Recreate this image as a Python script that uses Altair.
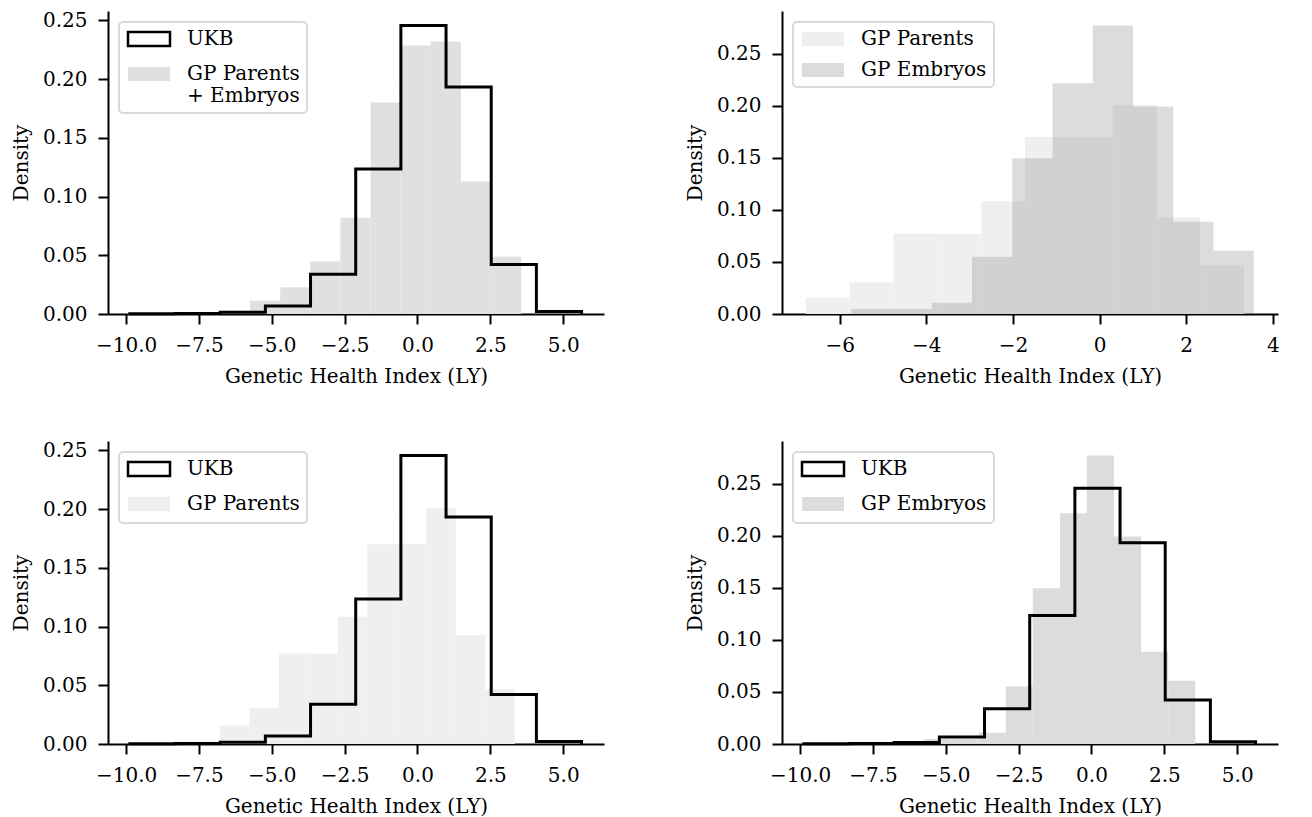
import altair as alt
import numpy as np
import pandas as pd

FONT = "DejaVu Serif"

# ---- data (density per bin, 10 equal bins) ----
UKB_RANGE = [-9.87, 5.63]
UKB_DENSITY = [0.0003, 0.0005, 0.0014, 0.0068, 0.0338, 0.1235, 0.2457, 0.1932, 0.0422, 0.0021]

PARENTS_RANGE = [-6.78, 3.34]
PARENTS_DENSITY = [0.0158, 0.0306, 0.0770, 0.0769, 0.1083, 0.1700, 0.1703, 0.2008, 0.0926, 0.0466]

EMBRYOS_RANGE = [-5.73, 3.56]
EMBRYOS_DENSITY = [0.0048, 0.0048, 0.0109, 0.0551, 0.1496, 0.2216, 0.2771, 0.1993, 0.0886, 0.0607]

COMBINED_RANGE = [-6.78, 3.56]
COMBINED_DENSITY = [0.0028, 0.0114, 0.0227, 0.0446, 0.0820, 0.1800, 0.2287, 0.2320, 0.1128, 0.0488]

X_TICKS_WIDE = [-10.0, -7.5, -5.0, -2.5, 0.0, 2.5, 5.0]
X_TICKS_GP = [-6, -4, -2, 0, 2, 4]
Y_TICKS = [0.0, 0.05, 0.10, 0.15, 0.20, 0.25]

X_DOMAIN_WIDE = [-10.62, 6.40]
X_DOMAIN_GP = [-7.33, 4.12]
Y_MAX_EMB = 0.291

S_UKB = "UKB"
S_COMB = "GP Parents + Embryos"
S_PAR = "GP Parents"
S_EMB = "GP Embryos"

C_COMB = "#e0e0e0"
C_PAR = "#eef0ef"
C_EMB_SOLID = "#dcdcdc"
C_EMB_ALPHA = "rgba(136,136,136,0.29)"

W, H = 496, 303
RECT_PATH = "M-3,-1L3,-1L3,1L-3,1Z"


def edges(rng, n):
    return np.linspace(rng[0], rng[1], n + 1)


def bars_df(rng, dens, name):
    e = edges(rng, len(dens))
    return pd.DataFrame({"x0": e[:-1], "x1": e[1:], "density": dens,
                         "zero": 0.0, "series": name})


def step_df(rng, dens, name):
    e = edges(rng, len(dens))
    xs = [e[0]] + list(e[:-1]) + [e[-1]]
    ys = [0.0] + list(dens) + [0.0]
    return pd.DataFrame({"x": xs, "density": ys, "order": list(range(len(xs))),
                         "series": name})


def make_legend(label_expr=None):
    kw = dict(title=None, orient="top-left", offset=11, padding=7,
              symbolType=RECT_PATH, symbolSize=196, symbolStrokeWidth=2.5,
              symbolOffset=13,
              labelFont=FONT, labelFontSize=20, labelColor="black",
              labelOffset=28, rowPadding=11, fillColor="white",
              strokeColor="#d9d9d9", cornerRadius=4, labelLimit=400)
    if label_expr:
        kw["labelExpr"] = label_expr
    return alt.Legend(**kw)


def axes(x_ticks, x_fmt):
    xa = alt.Axis(values=x_ticks, format=x_fmt, title="Genetic Health Index (LY)",
                  grid=False, labelFlush=False, labelOverlap=False)
    ya = alt.Axis(values=Y_TICKS, format=".2f", title="Density", grid=False,
                  labelOverlap=False)
    return xa, ya


def ukb_panel(gp_rng, gp_dens, gp_name, gp_color, label_expr=None):
    xa, ya = axes(X_TICKS_WIDE, ".1f")
    xs = alt.Scale(domain=X_DOMAIN_WIDE, nice=False, zero=False)
    ymax = max(max(UKB_DENSITY), max(gp_dens)) * 1.05
    ys = alt.Scale(domain=[0, ymax], nice=False, zero=False)
    dom = [S_UKB, gp_name]
    fill_scale = alt.Scale(domain=dom, range=["white", gp_color])
    stroke_scale = alt.Scale(domain=dom, range=["black", "transparent"])
    leg = make_legend(label_expr)
    bars = alt.Chart(bars_df(gp_rng, gp_dens, gp_name)).mark_rect(strokeWidth=0).encode(
        x=alt.X("x0:Q", scale=xs, axis=xa), x2="x1",
        y=alt.Y("density:Q", scale=ys, axis=ya), y2="zero",
        fill=alt.Fill("series:N", scale=fill_scale, legend=leg),
    )
    line = alt.Chart(step_df(UKB_RANGE, UKB_DENSITY, S_UKB)).mark_line(
        interpolate="step-after", strokeWidth=3, strokeJoin="miter", strokeCap="butt"
    ).encode(
        x=alt.X("x:Q", scale=xs), y=alt.Y("density:Q", scale=ys),
        order=alt.Order("order:Q"),
        stroke=alt.Stroke("series:N", scale=stroke_scale, legend=leg),
    )
    return alt.layer(bars, line).properties(width=W, height=H)


def gp_panel():
    xa, ya = axes(X_TICKS_GP, "d")
    xs = alt.Scale(domain=X_DOMAIN_GP, nice=False, zero=False)
    ys = alt.Scale(domain=[0, Y_MAX_EMB], nice=False, zero=False)
    fill_scale = alt.Scale(domain=[S_PAR, S_EMB], range=[C_PAR, C_EMB_ALPHA])
    leg = make_legend()
    df = pd.concat([bars_df(PARENTS_RANGE, PARENTS_DENSITY, S_PAR),
                    bars_df(EMBRYOS_RANGE, EMBRYOS_DENSITY, S_EMB)])
    bars = alt.Chart(df).mark_rect(strokeWidth=0).encode(
        x=alt.X("x0:Q", scale=xs, axis=xa), x2="x1",
        y=alt.Y("density:Q", scale=ys, axis=ya), y2="zero",
        fill=alt.Fill("series:N", scale=fill_scale, legend=leg),
        order=alt.Order("series:N", sort="descending"),
    )
    return bars.properties(width=W, height=H)


comb_expr = ("datum.label == '" + S_COMB + "' ? ['GP Parents', '\u00a0+ Embryos'] : datum.label")

p1 = ukb_panel(COMBINED_RANGE, COMBINED_DENSITY, S_COMB, C_COMB, comb_expr)
p2 = gp_panel()
p3 = ukb_panel(PARENTS_RANGE, PARENTS_DENSITY, S_PAR, C_PAR)
p4 = ukb_panel(EMBRYOS_RANGE, EMBRYOS_DENSITY, S_EMB, C_EMB_SOLID)

row1 = alt.hconcat(p1, p2, spacing=81).resolve_scale(fill="independent", stroke="independent").resolve_legend(fill="independent", stroke="independent")
row2 = alt.hconcat(p3, p4, spacing=81).resolve_scale(fill="independent", stroke="independent").resolve_legend(fill="independent", stroke="independent")

chart = alt.vconcat(row1, row2, spacing=54).resolve_scale(
    fill="independent", stroke="independent"
).resolve_legend(fill="independent", stroke="independent").properties(
    padding={"left": 3, "top": 2, "right": 5, "bottom": 0}
).configure_axis(
    domainColor="black", domainWidth=2, tickColor="black", tickWidth=2, tickSize=10,
    labelFont=FONT, labelFontSize=20, labelColor="black",
    titleFont=FONT, titleFontSize=20, titleFontWeight="normal", titleColor="black",
    labelPadding=11, titlePadding=11,
).configure_view(stroke=None).configure_legend(strokeWidth=2)

chart.save("out.html", embed_options={"renderer": "svg", "actions": False})
